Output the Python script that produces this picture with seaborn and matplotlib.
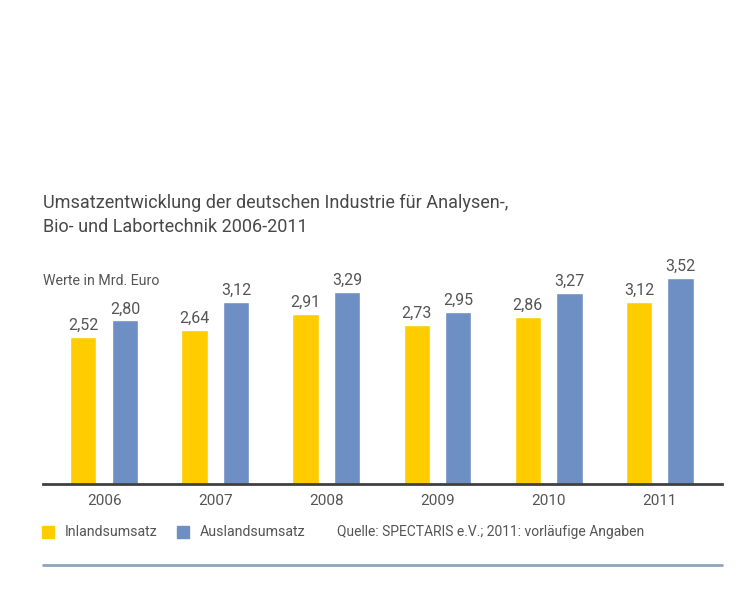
import pandas as pd
import seaborn as sns
import matplotlib.pyplot as plt
import matplotlib.patches as mpatches

years = ["2006", "2007", "2008", "2009", "2010", "2011"]
inland = [2.52, 2.64, 2.91, 2.73, 2.86, 3.12]
ausland = [2.80, 3.12, 3.29, 2.95, 3.27, 3.52]
series_names = ["Inlandsumsatz", "Auslandsumsatz"]
colors = ["#FFCC00", "#6E8FC3"]

df = pd.DataFrame({
    "Jahr": years * 2,
    "Wert": inland + ausland,
    "Reihe": [series_names[0]] * len(years) + [series_names[1]] * len(years),
})

sns.set_style("white")
plt.rcParams['font.family'] = ['Roboto', 'DejaVu Sans']
text_gray = "#555555"

fig = plt.figure(figsize=(7.54, 6.0), dpi=100)
ax = fig.add_axes([43 / 754, 1 - 484 / 600, (722 - 43) / 754, 224 / 600])

sns.barplot(data=df, x="Jahr", y="Wert", hue="Reihe", palette=colors,
            width=0.75, gap=0.37, ax=ax, legend=False, saturation=1)

for container in ax.containers:
    ax.bar_label(container, labels=[f"{v:.2f}".replace(".", ",") for v in container.datavalues],
                 padding=3, fontsize=11.5, color=text_gray)

ax.set_xlim(-0.55, 5.56)
ax.set_ylim(0, 3.836)
ax.set_xlabel("")
ax.set_ylabel("")
ax.set_yticks([])
for side in ["top", "right", "left"]:
    ax.spines[side].set_visible(False)
ax.spines["bottom"].set_color("#404040")
ax.spines["bottom"].set_linewidth(2)
ax.tick_params(axis="x", length=0, labelsize=11, labelcolor=text_gray, pad=7)

fig.text(43 / 754, 1 - 215 / 600, "Umsatzentwicklung der deutschen Industrie für Analysen-,\nBio- und Labortechnik 2006-2011",
         fontsize=13, color="#484848", va="center", ha="left", linespacing=1.45)
fig.text(43 / 754, 1 - 281 / 600, "Werte in Mrd. Euro", fontsize=10.2, color=text_gray, va="center", ha="left")

# legend row
leg_y = 1 - 532 / 600
for x0, col, name in [(42, colors[0], series_names[0]), (177, colors[1], series_names[1])]:
    fig.patches.append(mpatches.Rectangle((x0 / 754, 1 - 538 / 600), 12 / 754, 12 / 600,
                                          transform=fig.transFigure, color=col))
    fig.text((x0 + 23) / 754, leg_y, name, fontsize=10.2, color=text_gray, va="center", ha="left")
fig.text(337 / 754, leg_y, "Quelle: SPECTARIS e.V.; 2011: vorläufige Angaben",
         fontsize=10, color=text_gray, va="center", ha="left")

fig.add_artist(plt.Line2D([43 / 754, 722 / 754], [1 - 565 / 600, 1 - 565 / 600],
                          transform=fig.transFigure, color="#8FA3BF", linewidth=2))

fig.savefig("out.png", dpi=100)
